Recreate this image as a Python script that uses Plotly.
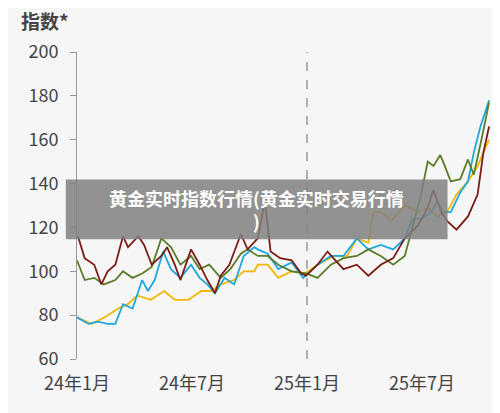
import plotly.graph_objects as go

red_x = [0.05,0.4,0.9,1.27,1.6,2.0,2.4,2.66,3.2,3.5,3.9,4.4,4.7,5.1,5.4,5.95,6.4,6.8,7.2,7.5,7.95,8.55,8.9,9.43,9.8,10.1,10.6,11.2,11.7,11.95,12.55,13.07,13.9,14.6,15.2,15.85,16.5,17.1,17.8,18.3,18.6,19.0,19.3,19.8,20.4,20.9,21.2,21.5]
red_y = [116,106,103,94,100,103,116,111,116,112,103,107,111,103,96,110,103,96,90,98,103,117,110,115,132,109,106,105,99,98,103,109,101,103,98,103,106,115,121,129,137,127,123,119,125,135,154,166]

grn_x = [0.0,0.4,0.9,1.4,2.0,2.4,2.9,3.4,3.9,4.4,4.9,5.4,5.95,6.4,6.9,7.5,8.0,8.55,8.9,9.43,9.95,10.5,11.2,11.95,12.55,13.25,13.9,14.6,15.2,15.85,16.5,17.1,17.5,17.9,18.3,18.6,18.95,19.1,19.5,20.0,20.4,20.7,21.1,21.5]
grn_y = [105,96,97,94,96,100,97,99,102,115,111,103,107,101,103,97,101,108,110,107,107,103,100,99,97,103,106,107,110,107,103,107,120,133,150,148,153,150,141,142,151,144,160,177]

blu_x = [0.0,0.6,1.1,1.6,2.0,2.4,2.9,3.4,3.7,4.05,4.5,4.9,5.4,5.95,6.4,6.8,7.2,7.7,8.2,8.7,9.25,9.43,9.95,10.5,11.2,11.8,12.55,13.25,13.9,14.6,15.2,15.85,16.5,17.1,17.5,18.0,18.5,18.8,19.1,19.5,20.0,20.4,20.7,21.05,21.5]
blu_y = [79,76,77,76,76,85,83,96,91,96,109,101,97,103,97,94,90,97,94,107,111,110,108,101,104,97,103,107,107,115,110,112,110,115,124,124,127,132,127,127,136,141,154,166,178]

yel_x = [0.0,0.75,1.45,2.15,2.65,3.15,3.85,4.55,5.1,5.8,6.5,7.0,7.5,8.2,8.7,9.25,9.43,9.95,10.5,11.2,11.9,12.55,13.4,14.1,14.6,15.2,15.45,15.85,16.4,17.1,17.8,18.3,18.8,19.3,19.8,20.4,20.9,21.5]
yel_y = [79,76,79,83,85,89,87,91,87,87,91,91,94,96,100,100,103,103,97,100,99,103,107,107,115,113,127,127,123,130,127,129,125,127,135,141,148,160]

tick_vals = [0, 6, 12, 18]
tick_text = ["24年1月", "24年7月", "25年1月", "25年7月"]
y_ticks = [60, 80, 100, 120, 140, 160, 180, 200]

fig = go.Figure()
for xs, ys, c in [(yel_x, yel_y, "#F2B705"), (blu_x, blu_y, "#1DA8DF"),
                  (grn_x, grn_y, "#5A7D2A"), (red_x, red_y, "#7A1D14")]:
    fig.add_trace(go.Scatter(x=xs, y=ys, mode="lines", line=dict(color=c, width=1.8), showlegend=False))

fig.add_shape(type="line", x0=12, x1=12, y0=0, y1=1, yref="paper",
              line=dict(color="#999999", width=1.5, dash="dash"))
fig.add_shape(type="rect", xref="paper", yref="paper", x0=-0.027, x1=0.895, y0=0.39, y1=0.585,
              fillcolor="rgba(128,128,128,0.85)", line=dict(width=0), layer="above")
fig.add_annotation(xref="paper", yref="paper", x=0.434, y=0.487, showarrow=False,
                   text="<b>黄金实时指数行情(黄金实时交易行情</b><br><b>)</b>", align="center",
                   font=dict(color="white", size=18, family="Noto Sans CJK SC"))
fig.add_annotation(xref="paper", yref="paper", x=-0.14, y=1.153, xanchor="left", showarrow=False,
                   text="<b>指数*</b>", font=dict(color="#444444", size=19, family="Noto Sans CJK SC"))

fig.update_layout(
    width=500, height=413, margin=dict(l=69, r=17, t=44, b=62),
    paper_bgcolor="#F6F6F6", plot_bgcolor="#F6F6F6",
    font=dict(family="Noto Sans CJK SC", color="#444444", size=18),
)
fig.update_xaxes(range=[0, 21.6], tickvals=tick_vals, ticktext=tick_text, showgrid=False,
                 zeroline=False, showline=False, ticks="", ticklabelstandoff=12)
fig.update_yaxes(range=[60, 200], tickvals=y_ticks, showgrid=False, zeroline=False,
                 showline=True, linecolor="#999999", ticks="outside", ticklen=6, tickcolor="#999999",
                 ticklabelstandoff=8)
fig.write_html("out.html")
